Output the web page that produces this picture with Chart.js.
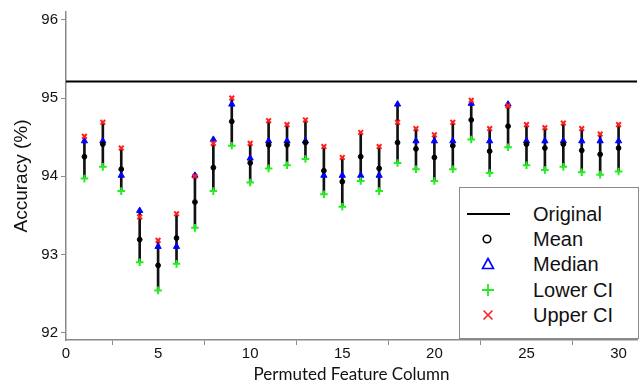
<!DOCTYPE html>
<html lang="en">
<head>
    <meta charset="UTF-8">
    <title>Permuted Feature Accuracy</title>
    <script src="https://cdn.jsdelivr.net/npm/chart.js"></script>
    <style>
        body {
            margin: 0;
            padding: 0;
            background: #fff;
        }

        .wrap {
            position: relative;
            width: 644px;
            height: 387px;
        }

        /* Legend box sits inside the plot, bottom right */
        .legend {
            position: absolute;
            left: 459px;
            top: 187px;
            width: 178px;
            height: 150px;
            border: 1px solid #8a8a8a;
            background: #fff;
            font-family: 'Liberation Sans', Arial, sans-serif;
            font-size: 20px;
            color: #111;
        }

        .legend .row {
            position: absolute;
            left: 0;
            width: 100%;
            height: 24px;
        }

        .legend svg {
            position: absolute;
            left: 6px;
            top: 0;
        }

        .legend span {
            position: absolute;
            left: 73px;
            top: 0;
            line-height: 24px;
        }
    </style>
</head>
<body>
    <div class="wrap">
        <canvas id="chart"></canvas>
        <div class="legend">
            <div class="row" style="top: 14px;">
                <svg width="44" height="24"><line x1="1" y1="12" x2="44" y2="12" stroke="#000" stroke-width="2"/></svg>
                <span>Original</span>
            </div>
            <div class="row" style="top: 39px;">
                <svg width="44" height="24"><circle cx="21" cy="12" r="3.8" fill="none" stroke="#000" stroke-width="1.6"/></svg>
                <span>Mean</span>
            </div>
            <div class="row" style="top: 64px;">
                <svg width="44" height="24"><polygon points="22,6.5 27.5,16.5 16.5,16.5" fill="none" stroke="#0000ff" stroke-width="1.6"/></svg>
                <span>Median</span>
            </div>
            <div class="row" style="top: 90px;">
                <svg width="44" height="24"><path d="M16 12 H28 M22 6 V18" stroke="#22ee22" stroke-width="1.8"/></svg>
                <span>Lower CI</span>
            </div>
            <div class="row" style="top: 115px;">
                <svg width="44" height="24"><path d="M17.5 7.5 L26.5 16.5 M26.5 7.5 L17.5 16.5" stroke="#ff2020" stroke-width="1.6"/></svg>
                <span>Upper CI</span>
            </div>
        </div>
    </div>

    <script>
        // Values
        const featureColumns = [1, 2, 3, 4, 5, 6, 7, 8, 9, 10, 11, 12, 13, 14, 15,
            16, 17, 18, 19, 20, 21, 22, 23, 24, 25, 26, 27, 28, 29, 30];
        const meanVals = [94.25, 94.41, 94.09, 93.19, 92.86, 93.21, 93.67, 94.11, 94.70, 94.17,
            94.40, 94.40, 94.43, 94.07, 93.93, 94.25, 94.10, 94.43, 94.35, 94.24,
            94.39, 94.72, 94.32, 94.64, 94.41, 94.36, 94.41, 94.33, 94.28, 94.36];
        const medianVals = [94.45, 94.45, 94.01, 93.56, 93.10, 93.10, 94.01, 94.47, 94.92, 94.23,
            94.45, 94.45, 94.45, 94.01, 94.01, 94.01, 94.01, 94.92, 94.45, 94.45,
            94.45, 94.93, 94.45, 94.92, 94.45, 94.45, 94.45, 94.45, 94.45, 94.45];
        const lowerVals = [93.97, 94.12, 93.81, 92.90, 92.54, 92.88, 93.34, 93.81, 94.39, 93.92,
            94.10, 94.14, 94.22, 93.77, 93.61, 93.94, 93.81, 94.17, 94.09, 93.94,
            94.09, 94.47, 94.04, 94.37, 94.14, 94.08, 94.12, 94.05, 94.02, 94.06];
        const upperVals = [94.51, 94.69, 94.36, 93.48, 93.18, 93.52, 94.00, 94.42, 95.00, 94.42,
            94.71, 94.66, 94.72, 94.38, 94.24, 94.56, 94.38, 94.69, 94.61, 94.53,
            94.69, 94.97, 94.61, 94.90, 94.66, 94.62, 94.68, 94.61, 94.54, 94.66];
        const originalAccuracy = 95.21;
        const xTickLabels = [0, 5, 10, 15, 20, 25, 30];
        const yTickLabels = [92, 93, 94, 95, 96];

        const pts = vals => featureColumns.map((c, i) => ({ x: c, y: vals[i] }));

        // vertical range bars: lowest to highest marker of each column
        const rangeBars = featureColumns.map((c, i) => ({
            x: c,
            y: [lowerVals[i], Math.max(upperVals[i], medianVals[i])]
        }));

        const axisGray = '#8a8a8a';
        const tickFont = { family: "'Liberation Sans', Arial, sans-serif", size: 15 };

        new Chart(document.getElementById('chart'), {
            type: 'bar',
            data: {
                datasets: [
                    {
                        type: 'line',
                        label: 'Original',
                        data: [{ x: 0, y: originalAccuracy }, { x: 31, y: originalAccuracy }],
                        borderColor: '#000',
                        borderWidth: 2,
                        pointRadius: 0,
                        order: 6
                    },
                    {
                        label: 'Range',
                        data: rangeBars,
                        backgroundColor: '#111',
                        barThickness: 2,
                        order: 5
                    },
                    {
                        type: 'line',
                        label: 'Median',
                        data: pts(medianVals),
                        showLine: false,
                        pointStyle: 'triangle',
                        pointRadius: 3.6,
                        backgroundColor: '#0000ff',
                        borderColor: '#0000ff',
                        borderWidth: 1,
                        order: 3
                    },
                    {
                        type: 'line',
                        label: 'Mean',
                        data: pts(meanVals),
                        showLine: false,
                        pointStyle: 'circle',
                        pointRadius: 2.4,
                        backgroundColor: '#000',
                        borderColor: '#000',
                        borderWidth: 1,
                        order: 2
                    },
                    {
                        type: 'line',
                        label: 'Lower CI',
                        data: pts(lowerVals),
                        showLine: false,
                        pointStyle: 'cross',
                        pointRadius: 3.8,
                        borderColor: '#22ee22',
                        borderWidth: 2,
                        order: 1
                    },
                    {
                        type: 'line',
                        label: 'Upper CI',
                        data: pts(upperVals),
                        showLine: false,
                        pointStyle: 'crossRot',
                        pointRadius: 3.3,
                        borderColor: '#ff2020',
                        borderWidth: 2,
                        order: 0
                    }
                ]
            },
            options: {
                responsive: true,
                maintainAspectRatio: false,
                animation: false,
                layout: { padding: { left: 0, right: 7, top: 8, bottom: 0 } },
                plugins: {
                    legend: { display: false },
                    tooltip: { enabled: false }
                },
                scales: {
                    x: {
                        type: 'linear',
                        min: 0,
                        max: 31,
                        offset: false,
                        afterFit: scale => { scale.height = 47; },
                        afterBuildTicks: scale => {
                            scale.ticks = xTickLabels.map(v => ({ value: v }));
                        },
                        grid: {
                            display: true,
                            drawOnChartArea: false,
                            drawTicks: true,
                            tickLength: 5,
                            color: axisGray
                        },
                        border: { color: axisGray, width: 1.5 },
                        ticks: { font: tickFont, color: '#111', padding: 0, maxRotation: 0 },
                        title: {
                            display: true,
                            text: 'Permuted Feature Column',
                            font: { family: 'Lato, sans-serif', size: 17 },
                            color: '#111',
                            padding: { top: 0, bottom: 2 }
                        }
                    },
                    y: {
                        min: 91.906,
                        max: 96.10,
                        afterFit: scale => { scale.width = 66; },
                        afterBuildTicks: scale => {
                            scale.ticks = yTickLabels.map(v => ({ value: v }));
                        },
                        grid: {
                            display: true,
                            drawOnChartArea: false,
                            drawTicks: true,
                            tickLength: 5,
                            color: axisGray
                        },
                        border: { color: axisGray, width: 1.5 },
                        ticks: { font: tickFont, color: '#111', padding: 3 },
                        title: {
                            display: true,
                            text: 'Accuracy (%)',
                            font: { family: "'Liberation Sans', Arial, sans-serif", size: 19 },
                            color: '#111',
                            padding: { top: 10, bottom: 0 }
                        }
                    }
                }
            }
        });
    </script>
</body>
</html>
